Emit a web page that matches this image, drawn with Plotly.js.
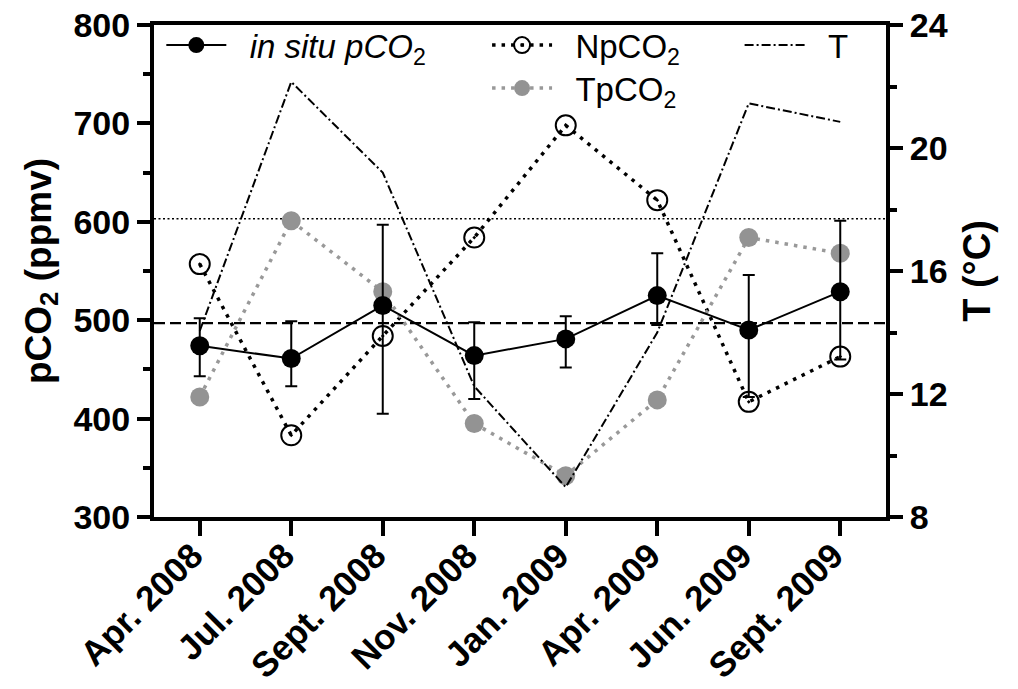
<!DOCTYPE html>
<html>
<head>
<meta charset="utf-8">
<script src="https://cdn.plot.ly/plotly-3.0.1.min.js"></script>
<style>
  html, body { margin: 0; padding: 0; background: #fff; }
  #chart { width: 1018px; height: 689px; }
</style>
</head>
<body>
<div id="chart"></div>
<script>
// ---- data ----
const categories = ["Apr. 2008", "Jul. 2008", "Sept. 2008", "Nov. 2008", "Jan. 2009", "Apr. 2009", "Jun. 2009", "Sept. 2009"];
const inSituPCO2 = [474, 461, 515, 464, 481, 525, 490, 529];
const inSituErrPlus = [28, 38, 82, 34, 23, 43, 56, 72];
const inSituErrMinus = [31, 28, 110, 44, 29, 30, 68, 69];
const NpCO2 = [557, 383, 484, 584, 698, 622, 417, 463];
const TpCO2 = [422, 601, 529, 395, 342, 419, 584, 568];
const temperature = [14.05, 22.15, 19.2, 12.25, 8.97, 14.0, 21.45, 20.85];
const dashedRef = [497];   // pCO2 reference level (dashed)
const dottedRef = [603];   // pCO2 reference level (dotted)
const yTickVals = [300, 400, 500, 600, 700, 800];
const y2TickVals = [8, 12, 16, 20, 24];

const FONT = "Liberation Sans, Arial, Helvetica, sans-serif";
const nb = "\u00a0";

const traces = [
  {
    x: categories, y: temperature, yaxis: "y2", type: "scatter", mode: "lines",
    name: nb + nb + "T",
    line: { color: "#000", width: 2, dash: "9px,3px,2px,3px" },
    legend: "legend3"
  },
  {
    x: categories, y: NpCO2, type: "scatter", mode: "lines+markers",
    name: nb + nb + "NpCO<sub>2</sub>",
    line: { color: "#000", width: 3.5, dash: "3.5px,6px" },
    marker: { symbol: "circle-open-dot", size: 20, color: "#000", line: { width: 2, color: "#000" } },
    legend: "legend2"
  },
  {
    x: categories, y: TpCO2, type: "scatter", mode: "lines+markers",
    name: nb + nb + "TpCO<sub>2</sub>",
    line: { color: "#999999", width: 3.5, dash: "3.5px,6px" },
    marker: { symbol: "circle", size: 19, color: "#939393" },
    legend: "legend4"
  },
  {
    x: categories, y: inSituPCO2, type: "scatter", mode: "lines+markers",
    name: nb + nb + "<i>in situ pCO</i><sub>2</sub>",
    line: { color: "#000", width: 2 },
    marker: { symbol: "circle", size: 19, color: "#000" },
    error_y: { type: "data", symmetric: false, array: inSituErrPlus, arrayminus: inSituErrMinus,
               color: "#000", thickness: 2, width: 6 },
    legend: "legend"
  }
];

const legendBase = {
  orientation: "v", bgcolor: "rgba(0,0,0,0)", borderwidth: 0,
  font: { family: FONT, size: 33, color: "#000" },
  itemwidth: 60, xanchor: "left", yanchor: "top", tracegroupgap: 0,
  traceorder: "normal"
};

const layout = {
  width: 1018, height: 689,
  margin: { l: 154, r: 132, t: 25, b: 172 },
  paper_bgcolor: "#fff", plot_bgcolor: "#fff",
  font: { family: FONT, color: "#000" },
  showlegend: true,
  legend: Object.assign({}, legendBase, { x: 0.01, y: 1.016 }),
  legend2: Object.assign({}, legendBase, { x: 0.455, y: 1.016 }),
  legend3: Object.assign({}, legendBase, { x: 0.8, y: 1.016 }),
  legend4: Object.assign({}, legendBase, { x: 0.455, y: 1.016 - 43 / 492 }),
  xaxis: {
    type: "category", categoryorder: "array", categoryarray: categories,
    range: [-0.5, 7.5], showgrid: false, zeroline: false,
    showline: true, linecolor: "#000", linewidth: 4, mirror: true,
    ticks: "outside", ticklen: 15, tickwidth: 4, tickcolor: "#000",
    tickangle: -45, ticklabelstandoff: -15, ticklabelshift: -7,
    tickfont: { family: FONT, size: 35, color: "#000", weight: "bold" }
  },
  yaxis: {
    range: [300, 800], tickvals: yTickVals, showgrid: false, zeroline: false,
    showline: true, linecolor: "#000", linewidth: 4,
    ticks: "outside", ticklen: 13, tickwidth: 4, tickcolor: "#000",
    minor: { dtick: 50, ticks: "outside", ticklen: 7, tickwidth: 4, tickcolor: "#000", showgrid: false },
    tickfont: { family: FONT, size: 34, color: "#000", weight: "bold" },
    title: { text: "pCO<sub>2</sub> (ppmv)", font: { family: FONT, size: 37, color: "#000", weight: "bold" }, standoff: 12 }
  },
  yaxis2: {
    overlaying: "y", side: "right",
    range: [8, 24], tickvals: y2TickVals, showgrid: false, zeroline: false,
    showline: true, linecolor: "#000", linewidth: 4,
    ticks: "outside", ticklen: 13, tickwidth: 4, tickcolor: "#000",
    minor: { dtick: 2, ticks: "outside", ticklen: 7, tickwidth: 4, tickcolor: "#000", showgrid: false },
    tickfont: { family: FONT, size: 34, color: "#000", weight: "bold" },
    title: { text: "T (°C)", font: { family: FONT, size: 38, color: "#000", weight: "bold" }, standoff: 18 }
  },
  shapes: [
    { type: "line", xref: "paper", x0: 0, x1: 1, yref: "y", y0: dashedRef[0], y1: dashedRef[0],
      line: { color: "#000", width: 2.2, dash: "11px,5px" }, layer: "below" },
    { type: "line", xref: "paper", x0: 0, x1: 1, yref: "y", y0: dottedRef[0], y1: dottedRef[0],
      line: { color: "#000", width: 1.5, dash: "2px,2.5px" }, layer: "below" }
  ]
};

Plotly.newPlot("chart", traces, layout, { staticPlot: true, displayModeBar: false });
</script>
</body>
</html>
